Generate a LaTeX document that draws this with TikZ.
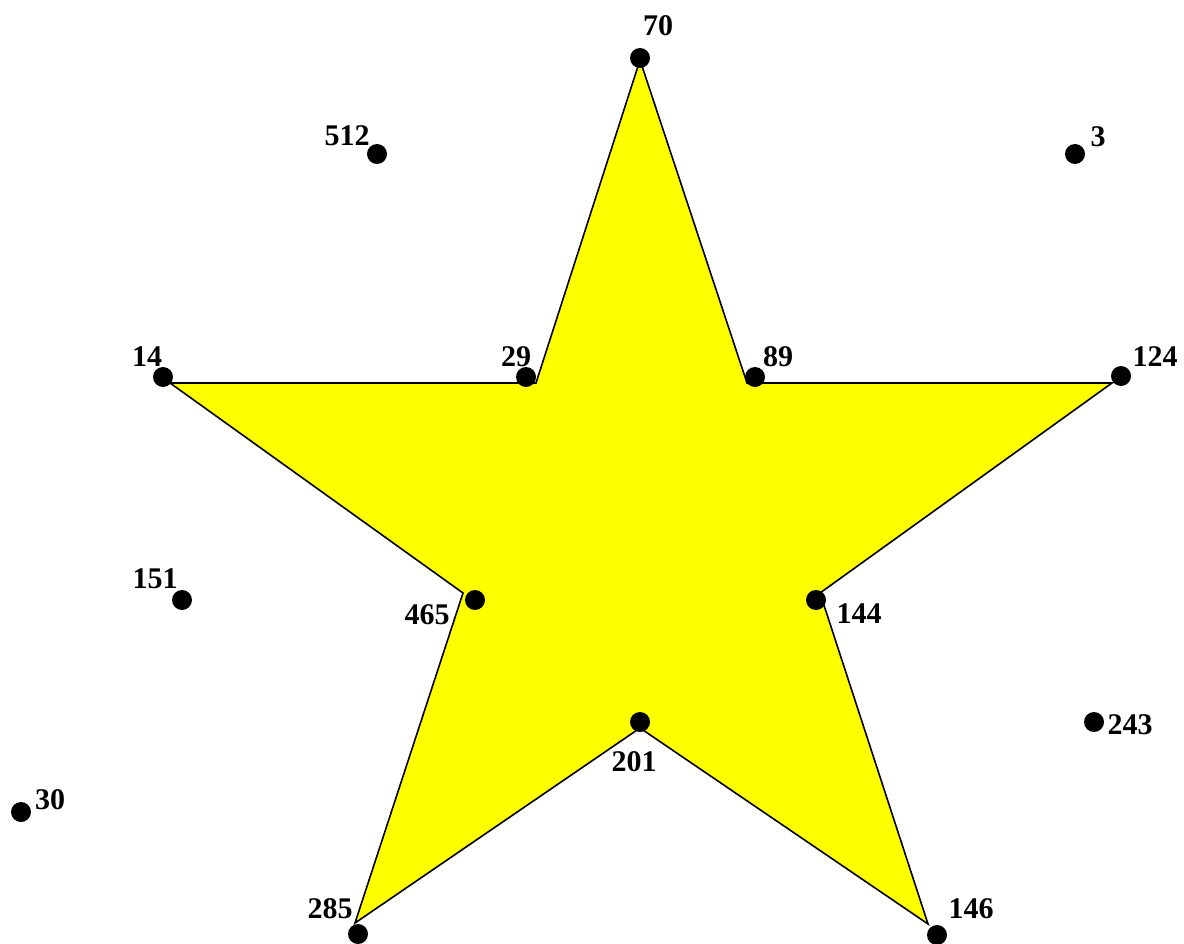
\documentclass[tikz,border=0pt]{standalone}
\usepackage{fontspec}
\setmainfont{Liberation Serif}
\definecolor{pureyellow}{RGB}{255,255,0}
\begin{document}
\begin{tikzpicture}[x=1pt,y=-1pt,
  dot/.style={circle,fill=black,inner sep=0pt,minimum size=20pt},
  lbl/.style={font=\fontsize{30}{36}\selectfont\bfseries,inner sep=0pt,anchor=center},
  starfill/.style={fill=pureyellow,draw=black,line width=1.6pt,line join=miter}]
\useasboundingbox (0,0) rectangle (1184,944);
% polygon vertices
\coordinate (v70) at (640,60);
\coordinate (v89) at (747,383);
\coordinate (v124) at (1112,383);
\coordinate (v144) at (820,593);
\coordinate (v146) at (928,924);
\coordinate (v201) at (640,728);
\coordinate (v285) at (355,923);
\coordinate (v465) at (463,593);
\coordinate (v14) at (170,383);
\coordinate (v29) at (536,383);
\path[starfill] (v70) -- (v89) -- (v124) -- (v144) -- (v146) -- (v201) -- (v285) -- (v465) -- (v14) -- (v29) -- cycle;
% dots
\node[dot] (d70) at (640,58) {};
\node[dot] (d512) at (377,154) {};
\node[dot] (d3) at (1075,154) {};
\node[dot] (d14) at (163,377) {};
\node[dot] (d29) at (526,377) {};
\node[dot] (d89) at (755,377) {};
\node[dot] (d124) at (1121,376) {};
\node[dot] (d151) at (182,600) {};
\node[dot] (d465) at (475,600) {};
\node[dot] (d144) at (816,600) {};
\node[dot] (d201) at (640,722) {};
\node[dot] (d243) at (1094,722) {};
\node[dot] (d30) at (21,812) {};
\node[dot] (d285) at (358,934) {};
\node[dot] (d146) at (937,935) {};
% labels
\node[lbl] (l70) at (658,26) {70};
\node[lbl] (l512) at (347,136) {512};
\node[lbl] (l3) at (1098,137) {3};
\node[lbl] (l14) at (147,357) {14};
\node[lbl] (l29) at (516,357) {29};
\node[lbl] (l89) at (778,357) {89};
\node[lbl] (l124) at (1155,357) {124};
\node[lbl] (l151) at (155,579) {151};
\node[lbl] (l465) at (427,615) {465};
\node[lbl] (l144) at (859,614) {144};
\node[lbl] (l201) at (634,762) {201};
\node[lbl] (l243) at (1130,725) {243};
\node[lbl] (l30) at (50,800) {30};
\node[lbl] (l285) at (330,909) {285};
\node[lbl] (l146) at (971,909) {146};
\end{tikzpicture}
\end{document}
